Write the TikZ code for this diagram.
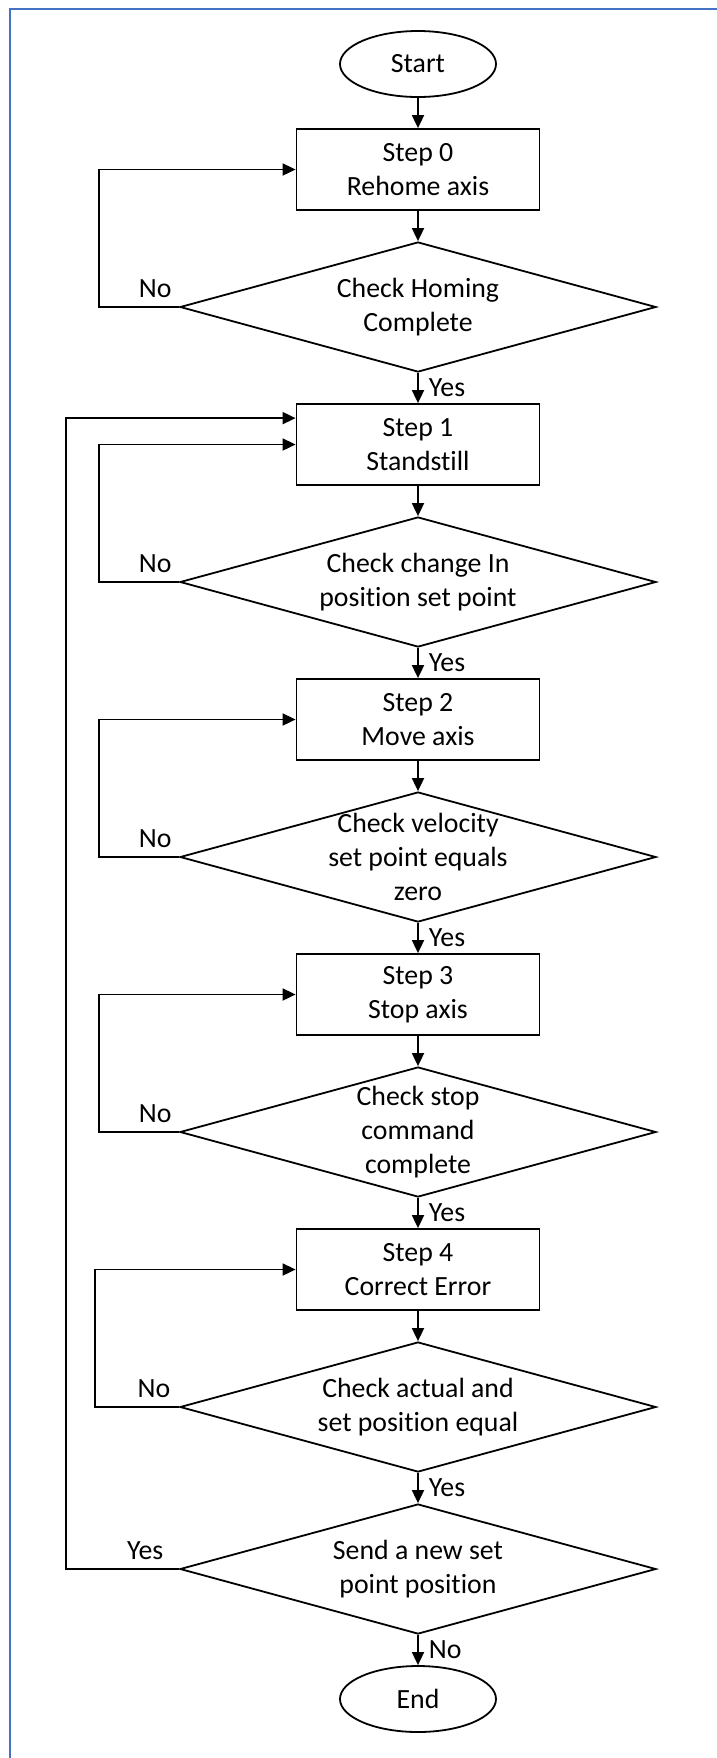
\documentclass[tikz,border=0pt]{standalone}
\usepackage{fontspec}
\setmainfont{Carlito}[Ligatures=NoCommon]
\usetikzlibrary{positioning,shapes.geometric,arrows.meta}
\definecolor{frameblue}{RGB}{68,114,196}

\begin{document}
\begin{tikzpicture}[x=0.5pt,y=-0.5pt,
    font=\fontsize{13.9pt}{17pt}\selectfont,
    line width=0.9pt,
    >={Triangle[length=6.5pt,width=6pt]},
    node distance=15.1pt,
    stepbox/.style={draw,align=center,minimum width=121.5pt,minimum height=40.5pt,inner sep=0pt},
    decision/.style={draw,diamond,minimum width=238pt,minimum height=65pt,inner sep=0pt},
    terminal/.style={draw,ellipse,minimum width=78pt,minimum height=33pt,inner sep=0pt},
    question/.style={align=center,inner sep=0pt},
    yeslabel/.style={right,inner sep=5pt},
    nolabel/.style={above,pos=0.3,inner sep=4pt}]
    \useasboundingbox (0,0) rectangle (717,1758);
    % frame, only top and left edge
    \draw[frameblue,line width=1pt] (10,1758) -- (10,9) -- (717,9);

    \draw
        node[terminal] (start) at (418,64) {Start}
        node[stepbox,below=of start] (step0) {Step 0\\Rehome axis}
        node[decision,below=of step0] (homing) {}
        node[question] (homingtext) at (homing) {Check Homing\\Complete}

        node[stepbox,below=of homing] (step1) {Step 1\\Standstill}
        node[decision,below=of step1] (change) {}
        node[question] (changetext) at (change) {Check change In\\position set point}

        node[stepbox,below=of change] (step2) {Step 2\\Move axis}
        node[decision,below=of step2] (velo) {}
        node[question] (velotext) at (velo) {Check velocity\\set point equals\\zero}

        node[stepbox,below=of velo] (step3) {Step 3\\Stop axis}
        node[decision,below=of step3] (stopcmd) {}
        node[question] (stopcmdtext) at (stopcmd) {Check stop\\command\\complete}

        node[stepbox,below=of stopcmd] (step4) {Step 4\\Correct Error}
        node[decision,below=of step4] (equal) {}
        node[question] (equaltext) at (equal) {Check actual and\\set position equal}

        node[decision,below=of equal] (newsp) {}
        node[question] (newsptext) at (newsp) {Send a new set\\point position}
        node[terminal,below=of newsp] (end) {End}
    ;
    \draw[->] (start) -- (step0);
    \draw[->] (step0) -- (homing);
    \draw[->] (homing) -- node[yeslabel] (homingyes) {Yes} (step1);
    \draw[->] (step1) -- (change);
    \draw[->] (change) -- node[yeslabel] (changeyes) {Yes} (step2);
    \draw[->] (step2) -- (velo);
    \draw[->] (velo) -- node[yeslabel] (veloyes) {Yes} (step3);
    \draw[->] (step3) -- (stopcmd);
    \draw[->] (stopcmd) -- node[yeslabel] (stopcmdyes) {Yes} (step4);
    \draw[->] (step4) -- (equal);
    \draw[->] (equal) -- node[yeslabel] (equalyes) {Yes} (newsp);
    \draw[->] (newsp) -- node[yeslabel] (newspno) {No} (end);

    % retry loops on the left
    \draw[->] (homing.west) -- node[nolabel] (homingno) {No} ++(-80,0) |- (step0);
    \draw[->] (change.west) -- node[nolabel] (changeno) {No} ++(-80,0) |- (step1);
    \draw[->] (velo.west) -- node[nolabel] (velono) {No} ++(-80,0) |- (step2);
    \draw[->] (stopcmd.west) -- node[nolabel] (stopcmdno) {No} ++(-80,0) |- (step3);
    \draw[->] (equal.west) -- node[nolabel] (equalno) {No} ++(-84,0) |- (step4);
    \draw[->] (newsp.west) -- node[nolabel] (newspyes) {Yes} ++(-113,0) |- ([yshift=-7.5pt]step1.north west);
\end{tikzpicture}
\end{document}
